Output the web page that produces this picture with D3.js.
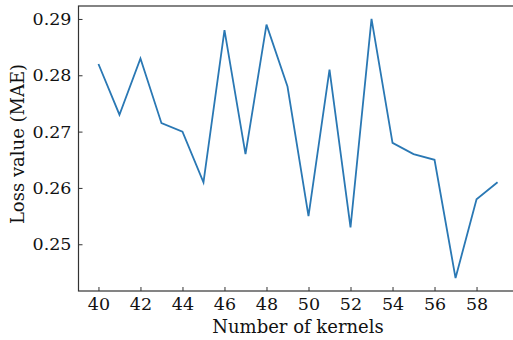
<!DOCTYPE html>
<html>
<head>
<meta charset="utf-8">
<script src="https://cdn.jsdelivr.net/npm/d3@7"></script>
<style>
  body { margin: 0; background: #fff; }
  text { font-family: "DejaVu Serif", serif; }
</style>
</head>
<body>
<div id="wrapper"></div>
<script>
// kernels on x, MAE loss on y
const kernels = [40, 41, 42, 43, 44, 45, 46, 47, 48, 49, 50, 51, 52, 53, 54, 55, 56, 57, 58, 59];
const lossMAE = [0.282, 0.273, 0.283, 0.2715, 0.270, 0.261, 0.288, 0.266, 0.289, 0.278,
                 0.255, 0.281, 0.253, 0.290, 0.268, 0.266, 0.265, 0.244, 0.258, 0.261];
const xTicks = [40, 42, 44, 46, 48, 50, 52, 54, 56, 58];
const yTicks = [0.25, 0.26, 0.27, 0.28, 0.29];

const width = 513, height = 340;
const margin = { top: 6, left: 78.5, bottom: 49, right: -4.5 };
const boundedWidth = width - margin.left - margin.right;
const boundedHeight = height - margin.top - margin.bottom;

const svg = d3.select("#wrapper").append("svg")
    .attr("width", width)
    .attr("height", height);

const bounded = svg.append("g")
    .attr("transform", `translate(${margin.left}, ${margin.top})`);

// matplotlib style 5% padding
const xPad = (59 - 40) * 0.05;
const yPad = (0.290 - 0.244) * 0.05;
const xScale = d3.scaleLinear()
    .domain([40 - xPad, 59 + xPad])
    .range([0, boundedWidth]);
const yScale = d3.scaleLinear()
    .domain([0.244 - yPad, 0.290 + yPad])
    .range([boundedHeight, 0]);

const line = d3.line()
    .x((d, i) => xScale(kernels[i]))
    .y(d => yScale(d));

bounded.append("path")
    .attr("d", line(lossMAE))
    .attr("fill", "none")
    .attr("stroke", "#2a78b4")
    .attr("stroke-width", 1.8)
    .attr("stroke-linejoin", "miter");

// frame
bounded.append("rect")
    .attr("width", boundedWidth)
    .attr("height", boundedHeight)
    .attr("fill", "none")
    .attr("stroke", "#333")
    .attr("stroke-width", 1.2);

const xAxis = d3.axisBottom(xScale)
    .tickValues(xTicks)
    .tickSizeInner(-4)
    .tickSizeOuter(0)
    .tickPadding(7);

const yAxis = d3.axisLeft(yScale)
    .tickValues(yTicks)
    .tickFormat(d3.format(".2f"))
    .tickSizeInner(-4)
    .tickSizeOuter(0)
    .tickPadding(7);

const gx = bounded.append("g")
    .attr("transform", `translate(0, ${boundedHeight})`)
    .call(xAxis);
const gy = bounded.append("g")
    .call(yAxis);

[gx, gy].forEach(g => {
    g.select(".domain").remove();
    g.selectAll(".tick line").attr("stroke", "#333").attr("stroke-width", 1);
    g.selectAll(".tick text")
        .attr("fill", "#111")
        .style("font-size", "17.5px")
        .style("font-family", "'DejaVu Serif', serif");
});

svg.append("text")
    .attr("x", 298)
    .attr("y", 333)
    .attr("text-anchor", "middle")
    .attr("fill", "#111")
    .style("font-size", "18px")
    .text("Number of kernels");

svg.append("text")
    .attr("transform", `translate(24, 144) rotate(-90)`)
    .attr("text-anchor", "middle")
    .attr("fill", "#111")
    .style("font-size", "18px")
    .text("Loss value (MAE)");
</script>
</body>
</html>
